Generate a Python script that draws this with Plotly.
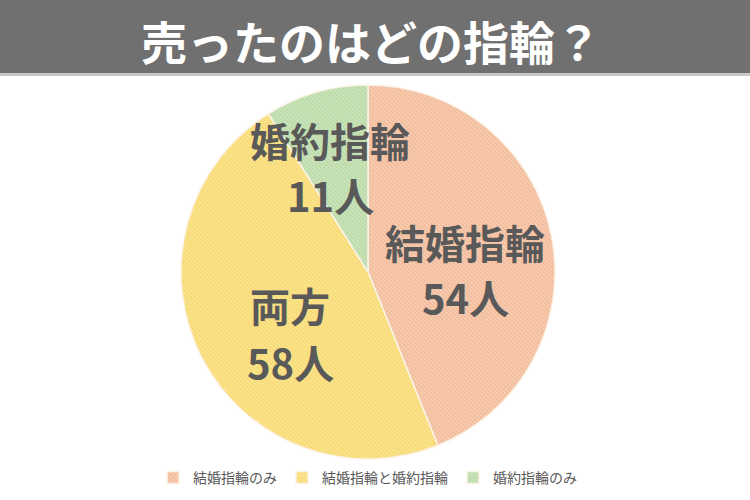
import plotly.graph_objects as go

# data
categories = ['結婚指輪のみ', '結婚指輪と婚約指輪', '婚約指輪のみ']
short_labels = ['結婚指輪', '両方', '婚約指輪']
counts = [54, 58, 11]

bg_colors = ['#f7cdb3', '#fbe590', '#cce4bd']
fg_colors = ['#ec9f74', '#f2c84a', '#9fcb84']

W, H = 750, 500
FONT = 'Noto Sans CJK JP'

fig = go.Figure()
fig.add_trace(go.Pie(
    labels=categories,
    values=counts,
    sort=False,
    direction='clockwise',
    rotation=0,
    textinfo='none',
    hoverinfo='label+value',
    marker=dict(
        colors=bg_colors,
        line=dict(color='#fbf3e6', width=1.5),
        pattern=dict(shape='\\', fgcolor=fg_colors, bgcolor=bg_colors,
                     size=3, solidity=0.4, fillmode='overlay'),
    ),
    domain=dict(x=[(368 - 187) / W, (368 + 187) / W],
                y=[1 - 459 / H, 1 - 85 / H]),
))

fig.update_layout(
    width=W, height=H,
    margin=dict(l=0, r=0, t=0, b=0),
    paper_bgcolor='white',
    plot_bgcolor='white',
    font=dict(family=FONT, color='#595959'),
    showlegend=True,
    legend=dict(orientation='h', x=0.49, xanchor='center', y=1 - 478 / H, yanchor='middle',
                font=dict(size=14, color='#595959', family=FONT),
                itemwidth=30, tracegroupgap=0),
    shapes=[
        dict(type='rect', xref='paper', yref='paper', x0=0, x1=1,
             y0=1 - 73 / H, y1=1, fillcolor='#707070', line=dict(width=0), layer='below'),
        dict(type='rect', xref='paper', yref='paper', x0=0, x1=1,
             y0=1 - 76 / H, y1=1 - 73 / H, fillcolor='#c8c8c8', line=dict(width=0), layer='below'),
    ],
)

fig.add_annotation(text='<b>売ったのはどの指輪？</b>', xref='paper', yref='paper',
                   x=0.494, y=1 - 40 / H, xanchor='center', yanchor='middle', showarrow=False,
                   font=dict(size=46, color='white', family=FONT))

# slice labels
label_pos = [(465, 242, 297), (290, 305, 362), (330, 140, 195)]
for name, n, (cx, y1, y2) in zip(short_labels, counts, label_pos):
    fig.add_annotation(text=f'<b>{name}</b>', xref='paper', yref='paper',
                       x=cx / W, y=1 - y1 / H, xanchor='center', yanchor='middle',
                       showarrow=False, font=dict(size=40, color='#595959', family=FONT))
    fig.add_annotation(text=f'<b>{n}人</b>', xref='paper', yref='paper',
                       x=cx / W, y=1 - y2 / H, xanchor='center', yanchor='middle',
                       showarrow=False, font=dict(size=40, color='#595959', family=FONT))

fig.write_html('out.html', config={'displayModeBar': False},
               post_script="document.body.style.margin='0';")
